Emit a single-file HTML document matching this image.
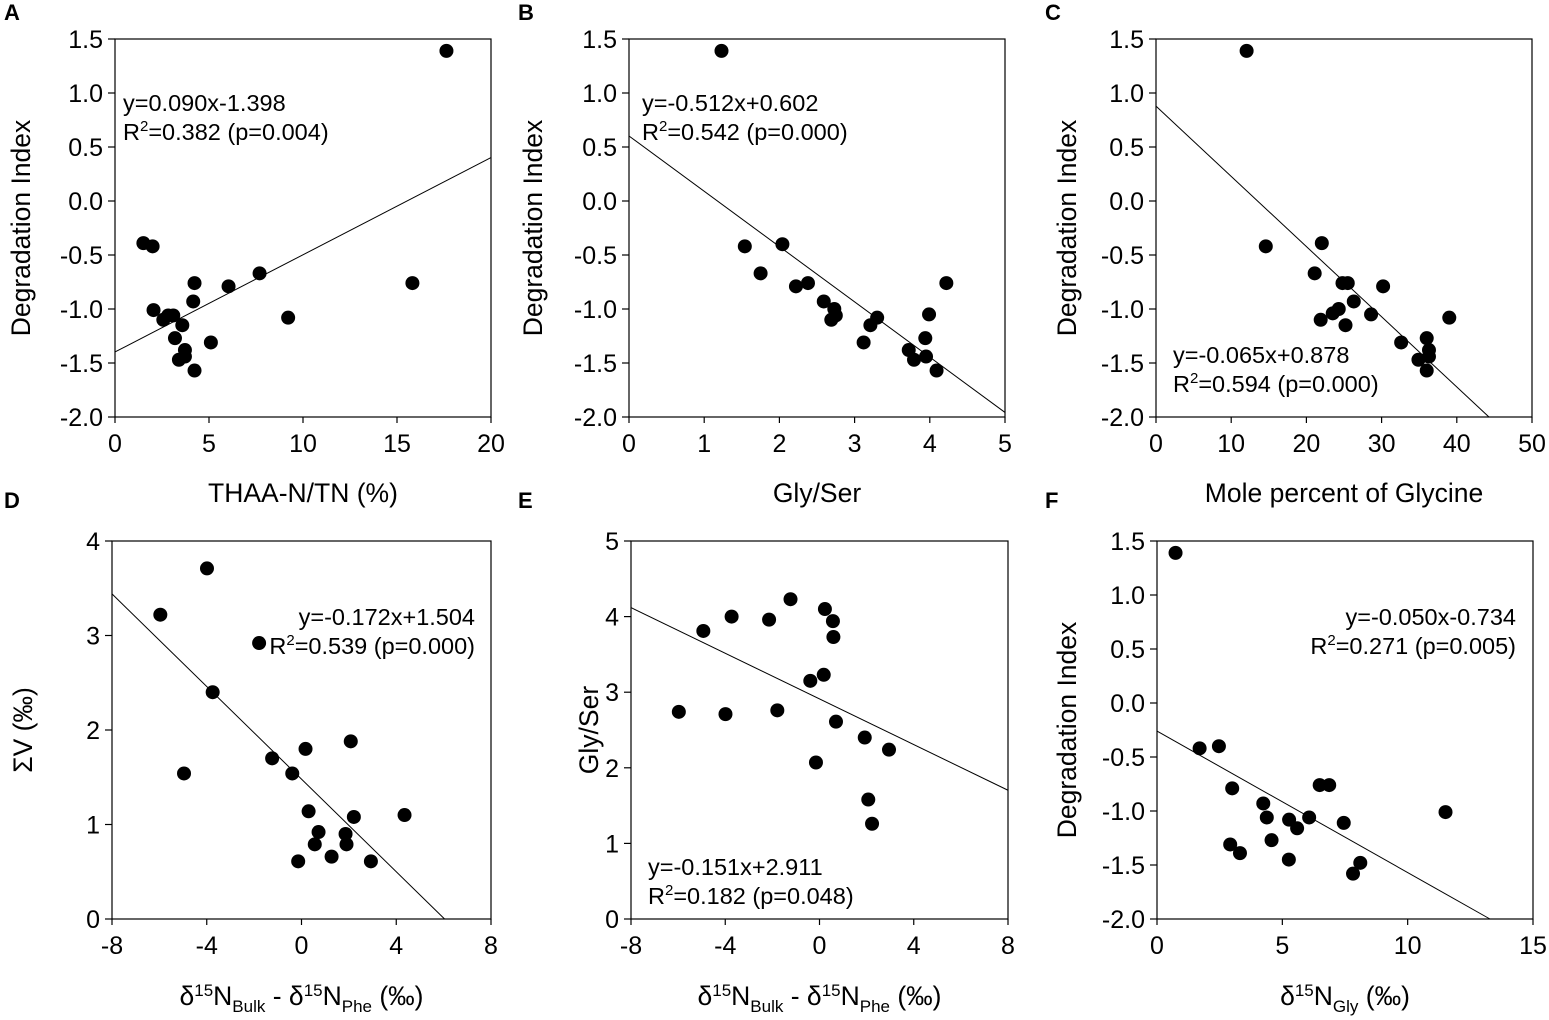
<!DOCTYPE html>
<html><head><meta charset="utf-8"><style>
body{margin:0;background:#fff}
svg{display:block;font-family:"Liberation Sans",Arial,sans-serif}
</style></head><body>
<svg id="fig" width="1549" height="1020" viewBox="0 0 1549 1020" xmlns="http://www.w3.org/2000/svg"></svg>
<script>
const aX=[17.63,1.51,2.0,2.05,2.57,2.83,3.1,3.19,3.58,3.40,3.72,3.72,4.23,4.16,4.23,5.10,6.04,7.69,9.21,15.82];
const aY=[1.39,-0.39,-0.42,-1.01,-1.10,-1.06,-1.06,-1.27,-1.15,-1.47,-1.38,-1.44,-0.76,-0.93,-1.57,-1.31,-0.79,-0.67,-1.08,-0.76];
const bX=[1.23,1.54,1.75,2.04,2.22,2.38,2.59,2.73,2.75,2.69,3.12,3.21,3.30,3.72,3.79,3.94,3.95,3.99,4.09,4.22];
const bY=[1.39,-0.42,-0.67,-0.40,-0.79,-0.76,-0.93,-1.00,-1.06,-1.10,-1.31,-1.15,-1.08,-1.38,-1.47,-1.27,-1.44,-1.05,-1.57,-0.76];
const cX=[12.05,14.6,22.05,21.1,24.8,25.5,30.2,26.3,24.3,23.5,21.9,25.2,28.6,39.0,32.6,36.0,36.3,36.3,34.9,36.0];
const cY=[1.39,-0.42,-0.39,-0.67,-0.76,-0.76,-0.79,-0.93,-1.0,-1.04,-1.10,-1.15,-1.05,-1.08,-1.31,-1.27,-1.38,-1.44,-1.47,-1.57];
const dX=[-3.99,-5.96,-1.79,-3.75,-4.96,-1.24,-0.39,0.17,2.08,0.30,2.21,4.35,0.72,1.86,0.56,1.90,1.27,-0.14,2.93];
const dY=[3.71,3.22,2.92,2.40,1.54,1.70,1.54,1.80,1.88,1.14,1.08,1.10,0.92,0.90,0.79,0.79,0.66,0.61,0.61];
const eX=[-5.97,-4.93,-3.73,-3.99,-2.14,-1.79,-1.23,0.23,0.57,0.59,-0.39,0.18,0.70,1.92,2.95,-0.15,2.07,2.23];
const eY=[2.74,3.81,4.00,2.71,3.96,2.76,4.23,4.10,3.94,3.73,3.15,3.23,2.61,2.40,2.24,2.07,1.58,1.26];
const fX=[0.74,1.70,2.47,3.00,4.24,4.38,2.92,3.31,4.57,5.27,5.59,6.07,5.26,6.49,6.87,7.45,11.51,7.82,8.11];
const fY=[1.39,-0.42,-0.40,-0.79,-0.93,-1.06,-1.31,-1.39,-1.27,-1.08,-1.16,-1.06,-1.45,-0.76,-0.76,-1.11,-1.01,-1.58,-1.48];
const degTicks=["1.5","1.0","0.5","0.0","-0.5","-1.0","-1.5","-2.0"];
const aTicks=["0","5","10","15","20"];
const bTicks=["0","1","2","3","4","5"];
const cTicks=["0","10","20","30","40","50"];
const dXTicks=["-8","-4","0","4","8"];
const dYTicks=["4","3","2","1","0"];
const eYTicks=["5","4","3","2","1","0"];
const fTicks=["0","5","10","15"];
// regression lines as drawn: [intercept, slope]
const aFit=[-1.398,0.090], bFit=[0.602,-0.512], cFit=[0.878,-0.065];
const dFit=[1.48,-0.245], eFit=[2.911,-0.151], fFit=[-0.26,-0.131];

const NS="http://www.w3.org/2000/svg";
const svg=document.getElementById('fig');
const TF=25, TT=26.5, EF=23.5;
function mk(tag,attrs,parent){const e=document.createElementNS(NS,tag);for(const k in attrs)e.setAttribute(k,attrs[k]);(parent||svg).appendChild(e);return e;}

function panel(p){
  const g=mk('g',{});
  
  
  const sx=v=>p.l+(v-p.x0)/(p.x1-p.x0)*(p.r-p.l);
  const sy=v=>p.b-(v-p.y0)/(p.y1-p.y0)*(p.b-p.t);
  const fr=mk('rect',{x:p.l,y:p.t,width:p.r-p.l,height:p.b-p.t,fill:'none',stroke:'#000','stroke-width':1.2},g);
  
  
  p.xt.forEach(s=>{const v=parseFloat(s),x=sx(v);
    mk('line',{x1:x,y1:p.b,x2:x,y2:p.b+6,stroke:'#000','stroke-width':1.2},g);
    const t=mk('text',{x:x,y:p.b+35,'font-size':TF,'text-anchor':'middle'},g);t.textContent=s;
    
    });
  p.yt.forEach(s=>{const v=parseFloat(s),y=sy(v);
    mk('line',{x1:p.l-7,y1:y,x2:p.l,y2:y,stroke:'#000','stroke-width':1.2},g);
    const t=mk('text',{x:p.l-12,y:y+9,'font-size':TF,'text-anchor':'end'},g);t.textContent=s;
    
    });
  const [a,m]=p.fit;
  const clipX=yv=>(yv-a)/m;
  let pts=[];[[p.x0,a+m*p.x0],[p.x1,a+m*p.x1]].forEach(([x,y])=>{
    if(y<p.y0){x=clipX(p.y0);y=p.y0;} if(y>p.y1){x=clipX(p.y1);y=p.y1;} pts.push([x,y]);});
  const ln=mk('line',{x1:sx(pts[0][0]),y1:sy(pts[0][1]),x2:sx(pts[1][0]),y2:sy(pts[1][1]),stroke:'#000','stroke-width':1},g);
  
  
  p.xs.forEach((xv,i)=>{const c=mk('circle',{cx:sx(xv),cy:sy(p.ys[i]),r:7,fill:'#000'},g);
    
    });
  const L=mk('text',{x:p.lx,y:p.ly,'font-size':22,'font-weight':'bold'},g);L.textContent=p.id;
  
  
  const e1=mk('text',{x:p.ex,y:p.ey,'font-size':EF,'text-anchor':p.ea},g);e1.textContent=p.eq;
  
  
  const e2=mk('text',{x:p.ex,y:p.ey+29,'font-size':EF,'text-anchor':p.ea},g);
  e2.innerHTML='R<tspan font-size="15" dy="-9">2</tspan><tspan dy="9">'+p.r2+'</tspan>';
  
  
  const xt=mk('text',{x:(p.l+p.r)/2,y:p.b+p.xto,'font-size':TT,'text-anchor':'middle'},g);xt.innerHTML=p.xtitle;
  
  
  const cy=(p.t+p.b)/2;
  const yt=mk('text',{x:p.ytx,y:cy,'font-size':TT,'text-anchor':'middle',transform:`rotate(-90 ${p.ytx} ${cy})`},g);yt.innerHTML=p.ytitle;
  
  
}
const sub=(s)=>`<tspan font-size="17" dy="7">${s}</tspan><tspan dy="-7">`;
const sup=(s)=>`<tspan font-size="17" dy="-9">${s}</tspan><tspan dy="9">`;
const dTitle=`δ${sup('15')}N</tspan>${sub('Bulk')} - δ</tspan>${sup('15')}N</tspan>${sub('Phe')} (‰)</tspan>`;
const T1=39,B1=417,T2=541,B2=919;
panel({id:'A',l:115,r:491,t:T1,b:B1,x0:0,x1:20,y0:-2,y1:1.5,xt:aTicks,yt:degTicks,xs:aX,ys:aY,fit:aFit,lx:4,ly:20,ex:123,ey:111,ea:'start',eq:'y=0.090x-1.398',r2:'=0.382 (p=0.004)',xtitle:'THAA-N/TN (%)',xto:85,ytitle:'Degradation Index',ytx:30});
panel({id:'B',l:629,r:1005,t:T1,b:B1,x0:0,x1:5,y0:-2,y1:1.5,xt:bTicks,yt:degTicks,xs:bX,ys:bY,fit:bFit,lx:518,ly:20,ex:642,ey:111,ea:'start',eq:'y=-0.512x+0.602',r2:'=0.542 (p=0.000)',xtitle:'Gly/Ser',xto:85,ytitle:'Degradation Index',ytx:542});
panel({id:'C',l:1156,r:1532,t:T1,b:B1,x0:0,x1:50,y0:-2,y1:1.5,xt:cTicks,yt:degTicks,xs:cX,ys:cY,fit:cFit,lx:1045,ly:20,ex:1173,ey:363,ea:'start',eq:'y=-0.065x+0.878',r2:'=0.594 (p=0.000)',xtitle:'Mole percent of Glycine',xto:85,ytitle:'Degradation Index',ytx:1076});
panel({id:'D',l:112,r:491,t:T2,b:B2,x0:-8,x1:8,y0:0,y1:4,xt:dXTicks,yt:dYTicks,xs:dX,ys:dY,fit:dFit,lx:4,ly:508,ex:475,ey:625,ea:'end',eq:'y=-0.172x+1.504',r2:'=0.539 (p=0.000)',xtitle:dTitle,xto:86,ytitle:'ΣV (‰)',ytx:32});
panel({id:'E',l:631,r:1008,t:T2,b:B2,x0:-8,x1:8,y0:0,y1:5,xt:dXTicks,yt:eYTicks,xs:eX,ys:eY,fit:eFit,lx:518,ly:508,ex:648,ey:875,ea:'start',eq:'y=-0.151x+2.911',r2:'=0.182 (p=0.048)',xtitle:dTitle,xto:86,ytitle:'Gly/Ser',ytx:598});
panel({id:'F',l:1157,r:1533,t:T2,b:B2,x0:0,x1:15,y0:-2,y1:1.5,xt:fTicks,yt:degTicks,xs:fX,ys:fY,fit:fFit,lx:1045,ly:508,ex:1516,ey:625,ea:'end',eq:'y=-0.050x-0.734',r2:'=0.271 (p=0.005)',xtitle:`δ${sup('15')}N</tspan>${sub('Gly')} (‰)</tspan>`,xto:86,ytitle:'Degradation Index',ytx:1076});
</script>
</body></html>
